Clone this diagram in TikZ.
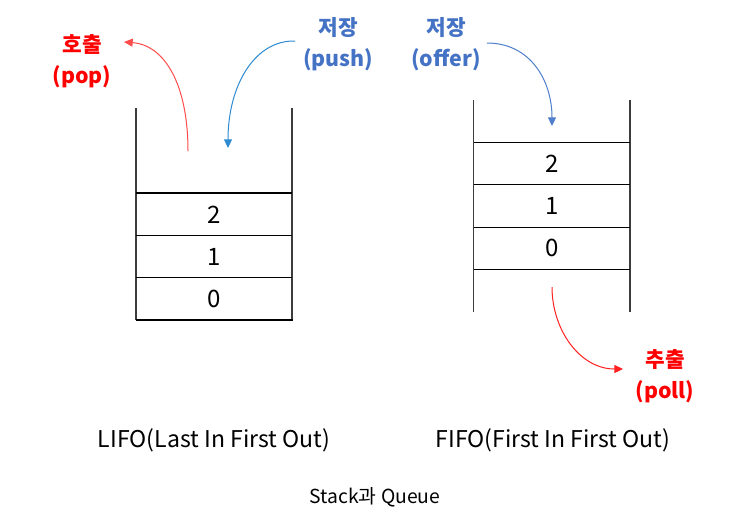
\documentclass[tikz,border=0pt]{standalone}
\usepackage{fontspec}
\setmainfont{Noto Sans CJK KR}
\usetikzlibrary{arrows.meta}
\definecolor{popred}{HTML}{FF4B4B}
\definecolor{pollred}{HTML}{FF2020}
\definecolor{pushblue}{HTML}{2E8BD0}
\definecolor{offerblue}{HTML}{4F7FCC}
\definecolor{labblue}{HTML}{4472C4}
\definecolor{labred}{HTML}{FF0000}
\definecolor{wall}{HTML}{3C3C3C}
\begin{document}
\begin{tikzpicture}[x=0.75pt,y=-0.75pt,
  wallline/.style={draw=wall,line width=1.1pt},
  sepline/.style={draw=black,line width=0.9pt},
  num/.style={font=\fontsize{18}{18}\selectfont,inner sep=0pt},
  lab/.style={font=\fontsize{16}{23.5}\selectfont\bfseries,align=center,inner sep=0pt},
  captext/.style={font=\fontsize{17.3}{19}\selectfont,inner sep=0pt},
  arr/.style={line width=0.75pt,-{Triangle[length=6.5pt,width=6pt]}}]
\useasboundingbox[fill=white] (0,0) rectangle (730,526);
% ---- Stack (LIFO)
\draw[wallline] (136,108) -- (136,320);
\draw[wallline] (292,108) -- (292,320);
\draw[sepline] (136,193) -- (292,193);
\draw[sepline] (136,235.5) -- (292,235.5);
\draw[sepline] (136,277.5) -- (292,277.5);
\draw[sepline] (135.5,320) -- (292.5,320);
\node[num] (s2) at (214,215) {2};
\node[num] (s1) at (214,257) {1};
\node[num] (s0) at (214,299) {0};
\node[lab,text=labred] (pop) at (82,61) {호출\\(pop)};
\node[lab,text=labblue] (push) at (338,44) {저장\\(push)};
\coordinate (popS) at (188,151);
\coordinate (popE) at (124,42);
\coordinate (pushS) at (295,41);
\coordinate (pushE) at (228,148);
\draw[arr,draw=popred] (popS) .. controls (188,85) and (165,45) .. (popE);
\draw[arr,draw=pushblue] (pushS) .. controls (255,40) and (228,85) .. (pushE);
% ---- Queue (FIFO)
\draw[wallline] (473.5,100) -- (473.5,312);
\draw[wallline] (630,100) -- (630,312);
\draw[sepline] (473.5,142.5) -- (630,142.5);
\draw[sepline] (473.5,184.5) -- (630,184.5);
\draw[sepline] (473.5,227.5) -- (630,227.5);
\draw[sepline] (473.5,269.5) -- (630,269.5);
\node[num] (q2) at (552,164) {2};
\node[num] (q1) at (552,206) {1};
\node[num] (q0) at (552,248) {0};
\node[lab,text=labblue] (offer) at (446,44) {저장\\(offer)};
\node[lab,text=labred] (poll) at (665,376) {추출\\(poll)};
\coordinate (offerS) at (487,43);
\coordinate (offerE) at (552,126);
\coordinate (pollS) at (552,287);
\coordinate (pollE) at (623,369);
\draw[arr,draw=offerblue] (offerS) .. controls (530,43) and (552,80) .. (offerE);
\draw[arr,draw=pollred] (pollS) .. controls (552,330) and (580,369) .. (pollE);
% ---- captions
\node[captext] (lifo) at (214,440) {LIFO(Last In First Out)};
\node[captext] (fifo) at (553,440) {FIFO(First In First Out)};
\node[font=\fontsize{14.5}{16}\selectfont,inner sep=0pt] (title) at (375,497) {Stack과 Queue};
\end{tikzpicture}
\end{document}
